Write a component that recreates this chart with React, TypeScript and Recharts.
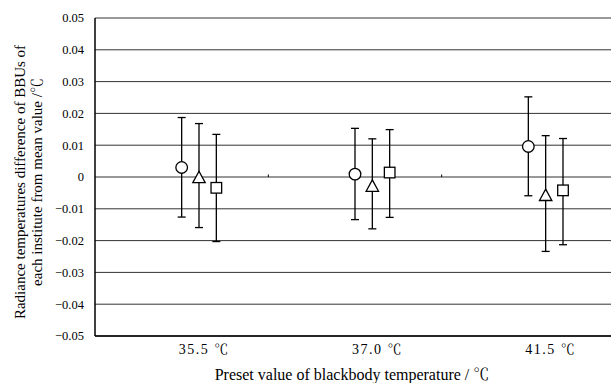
import React from "react";
import { ComposedChart, Scatter, XAxis, YAxis, CartesianGrid, ErrorBar, ReferenceLine } from "recharts";

const categories = ["35.5 ℃", "37.0 ℃", "41.5 ℃"];

// mean difference and lower/upper ends of the bars, per institute
const circleValues = [0.003, 0.0009, 0.0096];
const circleLow = [-0.0126, -0.0134, -0.0059];
const circleHigh = [0.0187, 0.0153, 0.0252];

const triangleValues = [0.0, -0.0027, -0.0056];
const triangleLow = [-0.0159, -0.0163, -0.0234];
const triangleHigh = [0.0168, 0.012, 0.013];

const squareValues = [-0.0034, 0.0014, -0.0042];
const squareLow = [-0.0203, -0.0127, -0.0213];
const squareHigh = [0.0134, 0.0149, 0.0121];

const yTicks = [-0.05, -0.04, -0.03, -0.02, -0.01, 0, 0.01, 0.02, 0.03, 0.04, 0.05];
const categoryBounds = [1, 2];

const FONT = "'Liberation Serif', 'Noto Serif CJK SC', serif";

const toPoints = (vals: number[], low: number[], high: number[], offset: number) =>
  vals.map((v, i) => ({ x: i + 0.5 + offset, y: v, err: [v - low[i], high[i] - v] }));

const circleData = toPoints(circleValues, circleLow, circleHigh, 0);
const triangleData = toPoints(triangleValues, triangleLow, triangleHigh, 0.1);
const squareData = toPoints(squareValues, squareLow, squareHigh, 0.2);

const CircleMark = (p: any) => (
  <circle cx={p.cx} cy={p.cy} r={5.8} fill="#fff" stroke="#000" strokeWidth={1.3} />
);
const TriangleMark = (p: any) => (
  <path
    d={`M${p.cx},${p.cy - 5.7} L${p.cx + 6.2},${p.cy + 5.7} L${p.cx - 6.2},${p.cy + 5.7} Z`}
    fill="#fff"
    stroke="#000"
    strokeWidth={1.3}
  />
);
const SquareMark = (p: any) => (
  <rect x={p.cx - 5.3} y={p.cy - 5.3} width={10.6} height={10.6} fill="#fff" stroke="#000" strokeWidth={1.3} />
);

const fmtY = (v: number) => {
  if (Math.abs(v) < 1e-9) return "0";
  return v < 0 ? "\u2212" + Math.abs(v).toFixed(2) : v.toFixed(2);
};

const YLabel = () => (
  <g style={{ fontFamily: FONT, fontSize: 15 }} fill="#000">
    <text x={20} y={182} transform="rotate(-90 20 182)" textAnchor="middle" dominantBaseline="central">
      Radiance temperatures difference of BBUs of
    </text>
    <text x={37} y={182} transform="rotate(-90 37 182)" textAnchor="middle" dominantBaseline="central">
      each institute from mean value /℃
    </text>
  </g>
);

const XLabel = () => (
  <text x={352} y={380} textAnchor="middle" style={{ fontFamily: FONT, fontSize: 16 }} fill="#000">
    Preset value of blackbody temperature / ℃
  </text>
);

export default function App() {
  return (
    <div
      style={{
        position: "absolute",
        left: 0,
        top: 0,
        width: 611,
        height: 383,
        overflow: "hidden",
        background: "#fff",
        fontFamily: FONT,
      }}
    >
      <ComposedChart width={620} height={383} margin={{ top: 18, right: 5, left: 0, bottom: 0 }}>
        <CartesianGrid horizontal vertical={false} stroke="#333" strokeWidth={1} />
        <XAxis
          type="number"
          dataKey="x"
          domain={[0, 3]}
          ticks={[0.63, 1.63, 2.63]}
          tickFormatter={(v: number) => categories[Math.floor(v)]}
          height={47}
          tickLine={false}
          tickSize={0}
          tickMargin={8}
          axisLine={{ stroke: "#000", strokeWidth: 1.5 }}
          tick={{ fill: "#000", fontFamily: FONT, fontSize: 14, letterSpacing: 1.5 }}
          label={<XLabel />}
          allowDataOverflow
        />
        <YAxis
          type="number"
          dataKey="y"
          domain={[-0.05, 0.05]}
          ticks={yTicks}
          tickFormatter={fmtY}
          width={95}
          tickLine={false}
          tickSize={0}
          tickMargin={11}
          axisLine={{ stroke: "#000", strokeWidth: 1.5 }}
          tick={{ fill: "#000", fontFamily: FONT, fontSize: 12.5 }}
          label={<YLabel />}
          allowDataOverflow
        />
        {categoryBounds.map((b) => (
          <ReferenceLine
            key={b}
            segment={[
              { x: b, y: 0 },
              { x: b, y: 0.0008 },
            ]}
            stroke="#000"
            strokeWidth={1}
          />
        ))}
        <Scatter data={circleData} shape={<CircleMark />} isAnimationActive={false}>
          <ErrorBar dataKey="err" direction="y" width={4} stroke="#000" strokeWidth={1.3} />
        </Scatter>
        <Scatter data={triangleData} shape={<TriangleMark />} isAnimationActive={false}>
          <ErrorBar dataKey="err" direction="y" width={4} stroke="#000" strokeWidth={1.3} />
        </Scatter>
        <Scatter data={squareData} shape={<SquareMark />} isAnimationActive={false}>
          <ErrorBar dataKey="err" direction="y" width={4} stroke="#000" strokeWidth={1.3} />
        </Scatter>
      </ComposedChart>
    </div>
  );
}
